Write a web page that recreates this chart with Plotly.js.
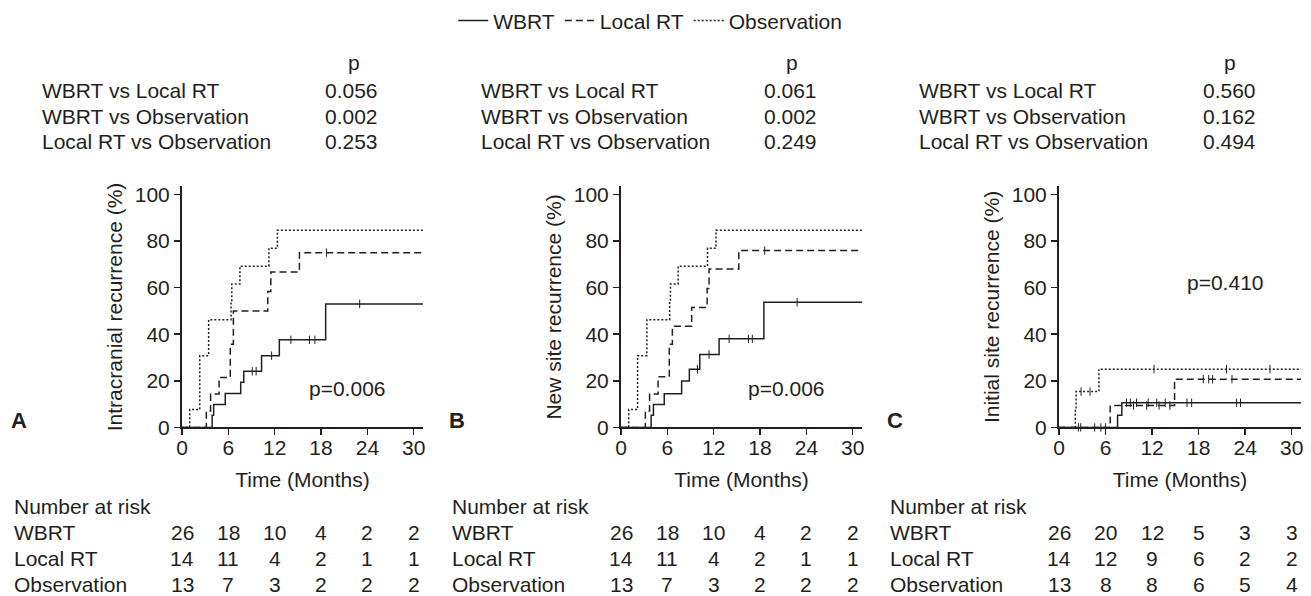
<!DOCTYPE html>
<html>
<head>
<meta charset="utf-8">
<script src="https://cdn.plot.ly/plotly-3.0.1.min.js"></script>
<style>html,body{margin:0;padding:0;background:#fff;}#chart{width:1311px;height:596px;}</style>
</head>
<body>
<div id="chart"></div>
<script>
// ---------- DATA ----------
var groups = ["WBRT", "Local RT", "Observation"];
var followUpEnd = 31.2;

// Panel A: Intracranial recurrence
var A_wbrt_t  = [0, 3.9, 4.1, 5.6, 7.6, 8.0, 10.3, 12.6, 18.6];
var A_wbrt_y  = [0, 5.2, 9.8, 14.6, 19.4, 24.1, 30.8, 37.6, 53.0];
var A_wbrt_c  = [9.1, 9.6, 11.6, 14.1, 16.5, 17.2, 23.0];
var A_local_t = [0, 3.15, 3.7, 4.8, 6.25, 6.65, 11.1, 11.5, 15.2];
var A_local_y = [0, 7.1, 14.3, 21.4, 35.7, 50.0, 58.3, 66.7, 75.0];
var A_local_c = [18.7];
var A_obs_t   = [0, 1.0, 2.3, 3.45, 6.35, 6.45, 7.5, 11.25, 12.35];
var A_obs_y   = [0, 7.7, 30.8, 46.2, 53.8, 61.5, 69.2, 76.9, 84.6];
var A_obs_c   = [];

// Panel B: New site recurrence
var B_wbrt_t  = [0, 3.9, 4.2, 5.6, 7.85, 8.85, 10.2, 12.7, 18.5];
var B_wbrt_y  = [0, 5.2, 9.8, 14.5, 19.9, 25.0, 31.3, 38.0, 53.7];
var B_wbrt_c  = [9.9, 11.4, 14.0, 16.5, 17.0, 22.8];
var B_local_t = [0, 3.15, 3.7, 4.8, 6.25, 6.65, 9.15, 11.15, 11.4, 15.25];
var B_local_y = [0, 7.1, 14.3, 21.7, 35.7, 43.4, 51.5, 59.6, 68.0, 75.9];
var B_local_c = [18.6];
var B_obs_t   = [0, 1.0, 2.15, 3.35, 6.3, 6.4, 7.4, 11.2, 12.3];
var B_obs_y   = [0, 7.7, 30.8, 46.2, 53.8, 61.5, 69.2, 76.9, 84.6];
var B_obs_c   = [];

// Panel C: Initial site recurrence
var C_wbrt_t  = [0, 7.55, 8.1];
var C_wbrt_y  = [0, 5.2, 10.6];
var C_wbrt_c  = [2.8, 5.4, 6.0, 8.7, 9.2, 10.0, 11.5, 12.6, 13.7, 16.5, 17.1, 22.9, 23.4];
var C_local_t = [0, 6.6, 14.9];
var C_local_y = [0, 9.4, 20.7];
var C_local_c = [2.5, 4.6, 9.6, 11.3, 12.9, 14.3, 18.6, 19.3, 19.8, 22.3];
var C_obs_t   = [0, 2.1, 2.2, 5.15];
var C_obs_y   = [0, 7.7, 15.4, 25.0];
var C_obs_c   = [2.85, 4.0, 12.25, 21.6, 27.2];

var yTitles = ["Intracranial recurrence (%)", "New site recurrence (%)", "Initial site recurrence (%)"];
var panelLetters = ["A", "B", "C"];
var panelP = ["p=0.006", "p=0.006", "p=0.410"];

var compLabels = ["WBRT vs Local RT", "WBRT vs Observation", "Local RT vs Observation"];
var A_comp_p = ["0.056", "0.002", "0.253"];
var B_comp_p = ["0.061", "0.002", "0.249"];
var C_comp_p = ["0.560", "0.162", "0.494"];

var riskTimes = [0, 6, 12, 18, 24, 30];
var A_risk_wbrt = [26, 18, 10, 4, 2, 2];
var A_risk_local = [14, 11, 4, 2, 1, 1];
var A_risk_obs = [13, 7, 3, 2, 2, 2];
var B_risk_wbrt = [26, 18, 10, 4, 2, 2];
var B_risk_local = [14, 11, 4, 2, 1, 1];
var B_risk_obs = [13, 7, 3, 2, 2, 2];
var C_risk_wbrt = [26, 20, 12, 5, 3, 3];
var C_risk_local = [14, 12, 9, 6, 2, 2];
var C_risk_obs = [13, 8, 8, 6, 5, 4];

// ---------- BUILD ----------
var INK = "#231f20";
var FONT = "Liberation Sans, Arial, Helvetica, sans-serif";
var FS = 21;
var dashes = ["solid", "7px,4px", "2px,2px"];

var panels = [
  {sx: "", curves: [[A_wbrt_t, A_wbrt_y, A_wbrt_c], [A_local_t, A_local_y, A_local_c], [A_obs_t, A_obs_y, A_obs_c]],
   comp: A_comp_p, risk: [A_risk_wbrt, A_risk_local, A_risk_obs]},
  {sx: "2", curves: [[B_wbrt_t, B_wbrt_y, B_wbrt_c], [B_local_t, B_local_y, B_local_c], [B_obs_t, B_obs_y, B_obs_c]],
   comp: B_comp_p, risk: [B_risk_wbrt, B_risk_local, B_risk_obs]},
  {sx: "3", curves: [[C_wbrt_t, C_wbrt_y, C_wbrt_c], [C_local_t, C_local_y, C_local_c], [C_obs_t, C_obs_y, C_obs_c]],
   comp: C_comp_p, risk: [C_risk_wbrt, C_risk_local, C_risk_obs]}
];

function stepAt(ts, ys, t) {
  var v = ys[0];
  for (var i = 0; i < ts.length; i++) { if (ts[i] <= t) v = ys[i]; }
  return v;
}

var W = 1311, H = 596;
function px(x) { return x / W; }
function py(y) { return 1 - y / H; }

var xDomains = [[182, 423], [621, 862], [1059, 1301]];
var yDomain = [py(426), py(183)];

var traces = [];
var layout = {
  width: W, height: H,
  margin: {l: 0, r: 0, t: 0, b: 0},
  paper_bgcolor: "#fff", plot_bgcolor: "#fff",
  font: {family: FONT, size: FS, color: INK},
  showlegend: true,
  legend: {orientation: "h", x: 0.496, xanchor: "center", y: py(16), yanchor: "middle",
           font: {family: FONT, size: FS, color: INK}, bgcolor: "rgba(0,0,0,0)", tracegroupgap: 0},
  annotations: [],
  shapes: []
};

panels.forEach(function (p, pi) {
  var xa = "x" + p.sx, ya = "y" + p.sx;
  p.curves.forEach(function (c, gi) {
    var ts = c[0].concat([followUpEnd]);
    var ys = c[1].concat([c[1][c[1].length - 1]]);
    traces.push({
      type: "scatter", mode: "lines", x: ts, y: ys, xaxis: xa, yaxis: ya,
      name: groups[gi], legendgroup: groups[gi], showlegend: pi === 0,
      line: {shape: "hv", color: INK, width: 1.5, dash: dashes[gi]},
      hoverinfo: "skip"
    });
    if (c[2].length) {
      traces.push({
        type: "scatter", mode: "markers", x: c[2],
        y: c[2].map(function (t) { return stepAt(c[0], c[1], t); }),
        xaxis: xa, yaxis: ya, showlegend: false, cliponaxis: false,
        marker: {symbol: "line-ns", size: 6, line: {width: 1, color: INK}, color: INK},
        hoverinfo: "skip"
      });
    }
  });

  var axBase = {
    showline: true, linecolor: INK, linewidth: 2, ticks: "outside", ticklen: 6,
    tickwidth: 1.5, tickcolor: INK, showgrid: false, zeroline: false,
    tickfont: {family: FONT, size: FS, color: INK}, fixedrange: true
  };
  layout["xaxis" + p.sx] = Object.assign({}, axBase, {
    domain: [px(xDomains[pi][0]), px(xDomains[pi][1])],
    range: [0, followUpEnd], tickvals: riskTimes, anchor: ya, ticklabelstandoff: -6,
    title: {text: "Time (Months)", font: {family: FONT, size: FS, color: INK}, standoff: 15}
  });
  layout["yaxis" + p.sx] = Object.assign({}, axBase, {
    domain: yDomain, range: [0, 103.4], tickvals: [0, 20, 40, 60, 80, 100], anchor: xa,
    title: {text: yTitles[pi], font: {family: FONT, size: FS, color: INK}, standoff: 6}
  });

  // in-plot p value
  layout.annotations.push({
    text: panelP[pi], x: pi === 2 ? 21.5 : 21.4, y: pi === 2 ? 62 : 16.5,
    xref: xa, yref: ya, showarrow: false, font: {size: FS, color: INK}
  });

  // panel letter
  var letterX = [19, 457, 895][pi];
  layout.annotations.push({
    text: "<b>" + panelLetters[pi] + "</b>", x: px(letterX), y: py(419),
    xref: "paper", yref: "paper", showarrow: false, xanchor: "center", yanchor: "middle",
    font: {size: 22, color: INK}
  });

  // comparison table
  var labX = [40, 479, 917][pi], valR = [380, 819, 1258][pi], pC = [354, 792, 1230][pi];
  layout.annotations.push({
    text: "p", x: px(pC), y: py(58), xref: "paper", yref: "paper", showarrow: false,
    xanchor: "center", yanchor: "middle", font: {size: FS, color: INK}
  });
  compLabels.forEach(function (lab, ri) {
    var yy = py(86 + ri * 26);
    layout.annotations.push({
      text: lab, x: px(labX), y: yy, xref: "paper", yref: "paper", showarrow: false,
      xanchor: "left", yanchor: "middle", font: {size: FS, color: INK}
    });
    layout.annotations.push({
      text: p.comp[ri], x: px(valR), y: yy, xref: "paper", yref: "paper", showarrow: false,
      xanchor: "right", yanchor: "middle", font: {size: FS, color: INK}
    });
  });

  // number at risk
  var riskLabX = [12, 450, 888][pi];
  layout.annotations.push({
    text: "Number at risk", x: px(riskLabX), y: py(506), xref: "paper", yref: "paper",
    showarrow: false, xanchor: "left", yanchor: "middle", font: {size: FS, color: INK}
  });
  groups.forEach(function (g, gi) {
    var yy = py(532 + gi * 26);
    layout.annotations.push({
      text: g, x: px(riskLabX), y: yy, xref: "paper", yref: "paper", showarrow: false,
      xanchor: "left", yanchor: "middle", font: {size: FS, color: INK}
    });
    p.risk[gi].forEach(function (n, ci) {
      layout.annotations.push({
        text: String(n), x: riskTimes[ci], y: yy, xref: xa, yref: "paper", showarrow: false,
        xanchor: "center", yanchor: "middle", font: {size: FS, color: INK}
      });
    });
  });
});

Plotly.newPlot("chart", traces, layout, {staticPlot: true, displayModeBar: false});
</script>
</body>
</html>
